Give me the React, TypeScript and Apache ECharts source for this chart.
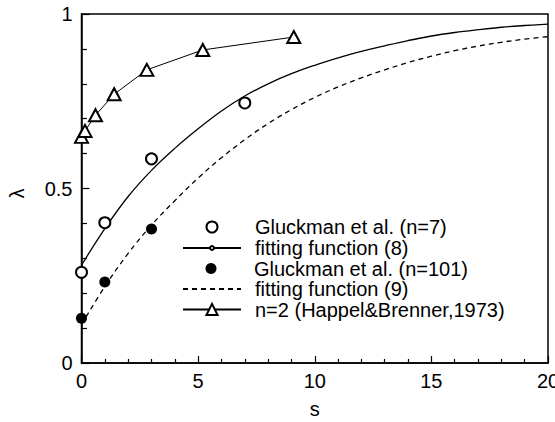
import React, { useEffect, useRef } from "react";
import * as echarts from "echarts";

const fitS = [0, 1, 2, 3, 4, 5, 6, 7, 8, 9, 10, 11, 12, 13, 14, 15, 16, 17, 18, 19, 20];
const fit8 = [0.28, 0.385, 0.477, 0.552, 0.615, 0.671, 0.722, 0.765, 0.8, 0.829, 0.853, 0.874, 0.893, 0.909, 0.924, 0.937, 0.947, 0.955, 0.962, 0.967, 0.971];
const fit9 = [0.11, 0.219, 0.314, 0.395, 0.465, 0.53, 0.588, 0.64, 0.686, 0.726, 0.761, 0.791, 0.817, 0.84, 0.861, 0.879, 0.895, 0.908, 0.919, 0.928, 0.935];

const n7S = [0, 1, 3, 7];
const n7L = [0.26, 0.402, 0.585, 0.745];
const n101S = [0, 1, 3];
const n101L = [0.128, 0.232, 0.384];
const hbS = [0, 0.15, 0.6, 1.4, 2.8, 5.2, 9.1];
const hbL = [0.648, 0.665, 0.71, 0.77, 0.84, 0.897, 0.934];

const names = [
  "Gluckman et al. (n=7)",
  "fitting function (8)",
  "Gluckman et al. (n=101)",
  "fitting function (9)",
  "n=2 (Happel&Brenner,1973)",
];

const FONT = "'Liberation Sans', Arial, sans-serif";

const zip = (a: number[], b: number[]) => a.map((v, i) => [v, b[i]]);

const legendRow = (item: any, center: number, itemHeight: number, shift = 0) => ({
  orient: "vertical",
  left: 182 + shift,
  top: center - 10,
  padding: 0,
  itemWidth: 58,
  itemHeight,
  selectedMode: false,
  data: [item],
  textStyle: { fontFamily: FONT, fontSize: 20, lineHeight: 20, color: "#000", padding: [0, 0, 0, 9] },
});

export default function App() {
  const ref = useRef<HTMLDivElement>(null);
  useEffect(() => {
    const chart = echarts.init(ref.current!, null, { renderer: "svg" });
    chart.setOption({
      animation: false,
      backgroundColor: "#fff",
      grid: {
        left: 81.5,
        right: 7,
        top: 14,
        bottom: 59,
        outerBoundsMode: "none",
        containLabel: false,
        show: true,
        borderColor: "#000",
        borderWidth: 1.5,
        backgroundColor: "transparent",
      },
      legend: [
        legendRow(names[0], 227, 11, 23.5),
        legendRow(names[1], 248, 5),
        legendRow(names[2], 268.5, 11, 23.5),
        legendRow({ name: names[3], itemStyle: { opacity: 0 } }, 289, 11),
        legendRow(names[4], 309.5, 14),
      ],
      xAxis: {
        type: "value",
        min: 0,
        max: 20,
        interval: 5,
        name: "s",
        nameLocation: "middle",
        nameGap: 36,
        nameTextStyle: { fontFamily: FONT, fontSize: 20, color: "#000" },
        axisLine: { show: true, lineStyle: { color: "#000", width: 1.5 } },
        axisTick: { show: true, inside: true, length: 7, lineStyle: { color: "#000", width: 1.2 } },
        minorTick: { show: true, splitNumber: 5, length: 4, lineStyle: { color: "#000", width: 1.2 } },
        axisLabel: { fontFamily: FONT, fontSize: 20, color: "#000", margin: 8, hideOverlap: false },
        splitLine: { show: false },
      },
      yAxis: {
        type: "value",
        min: 0,
        max: 1,
        interval: 0.5,
        name: "λ",
        nameLocation: "middle",
        nameRotate: 90,
        nameGap: 55,
        nameTextStyle: { fontFamily: FONT, fontSize: 20, color: "#000", padding: [0, 10, 0, 0] },
        axisLine: { show: true, lineStyle: { color: "#000", width: 1.5 } },
        axisTick: { show: true, inside: true, length: 8, lineStyle: { color: "#000", width: 1.2 } },
        minorTick: { show: true, splitNumber: 5, length: 5.5, lineStyle: { color: "#000", width: 1.2 } },
        axisLabel: { fontFamily: FONT, fontSize: 20, color: "#000", margin: 9 },
        splitLine: { show: false },
      },
      series: [
        {
          name: names[0],
          type: "scatter",
          data: zip(n7S, n7L),
          symbol: "emptyCircle",
          symbolSize: 11,
          itemStyle: { color: "#000", borderColor: "#000", borderWidth: 1, opacity: 1 },
          z: 5,
        },
        {
          name: names[1],
          type: "line",
          data: zip(fitS, fit8),
          smooth: 0.4,
          showSymbol: false,
          symbol: "circle",
          symbolSize: 4,
          itemStyle: { color: "#fff", borderColor: "#000", borderWidth: 1, opacity: 1 },
          lineStyle: { color: "#000", width: 1.3 },
          z: 3,
        },
        {
          name: names[2],
          type: "scatter",
          data: zip(n101S, n101L),
          symbol: "circle",
          symbolSize: 11,
          itemStyle: { color: "#000", opacity: 1 },
          z: 5,
        },
        {
          name: names[3],
          type: "line",
          data: zip(fitS, fit9),
          smooth: 0.4,
          showSymbol: false,
          symbol: "none",
          itemStyle: { color: "#000" },
          lineStyle: { color: "#000", width: 1.3, type: [5, 4] },
          z: 3,
        },
        {
          name: names[4],
          type: "line",
          data: zip(hbS, hbL),
          symbol: "emptyTriangle",
          symbolSize: [13, 12],
          itemStyle: { color: "#000", borderColor: "#000", borderWidth: 1, opacity: 1 },
          lineStyle: { color: "#000", width: 1 },
          z: 4,
        },
      ],
    });
    return () => chart.dispose();
  }, []);
  return <div ref={ref} style={{ width: 555, height: 422, position: "absolute", left: 0, top: 0 }} />;
}
